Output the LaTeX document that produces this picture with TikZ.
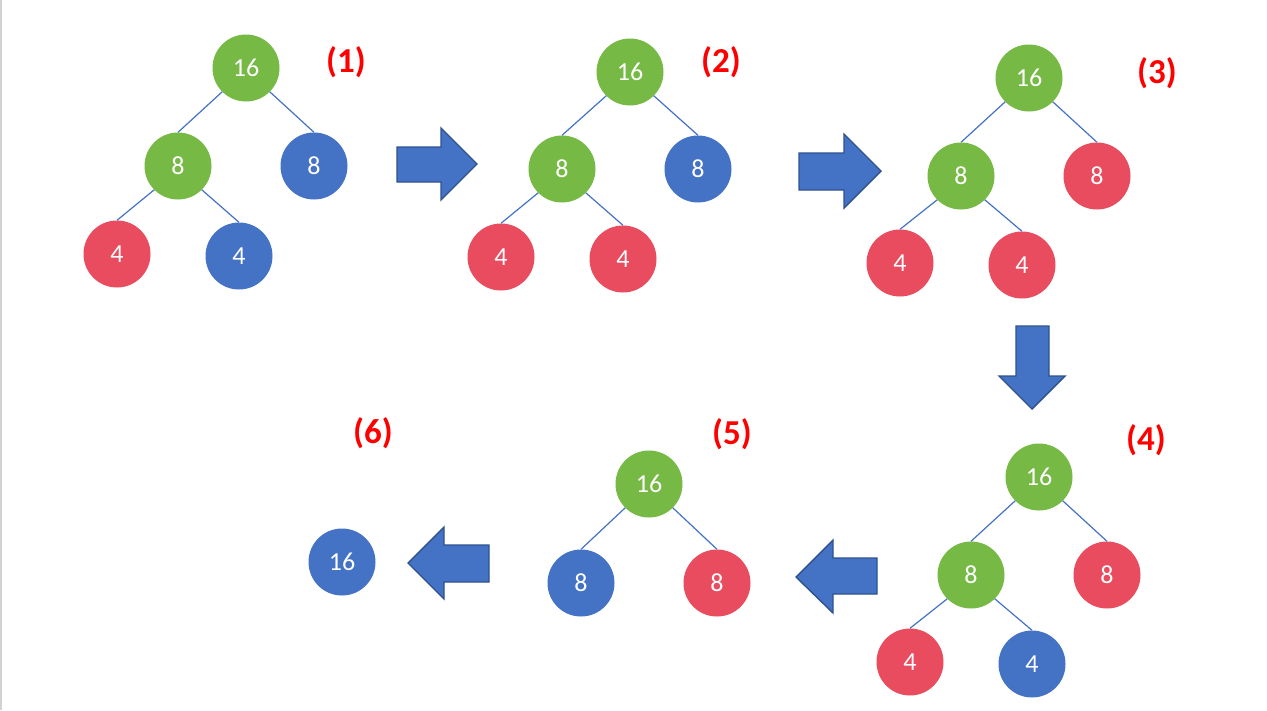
\documentclass[tikz,border=0pt]{standalone}
\usepackage{fontspec}
\setmainfont{Carlito}
\usepackage{tikz}
\usetikzlibrary{positioning}
\definecolor{hgreen}{HTML}{76B945}
\definecolor{hred}{HTML}{E84C5E}
\definecolor{hblue}{HTML}{4472C4}
\definecolor{hborder}{HTML}{2F528F}
\tikzset{
  hnode/.style={circle, minimum size=67pt, inner sep=0pt, text=white,
    font=\fontsize{26}{30}\selectfont},
  grn/.style={hnode, fill=hgreen},
  rd/.style={hnode, fill=hred},
  bl/.style={hnode, fill=hblue},
  link/.style={draw=hblue, line width=1.2pt},
  numlbl/.style={text=red, font=\fontsize{35}{40}\selectfont\bfseries},
  blockarrow/.style={fill=hblue, draw=hborder, line width=1.4pt, line join=miter}
}

\begin{document}
\begin{tikzpicture}[x=1pt,y=-1pt]
  \fill[white] (0,0) rectangle (1267,710);
  \useasboundingbox (0,0) rectangle (1267,710);
  \draw[gray!35, line width=1.5pt] (1,0) -- (1,710);

  % (1)
  \node[grn] (t1r) at (246,68) {16};
  \node[grn] (t1a) at (178,166) {8};
  \node[bl]  (t1b) at (314,166) {8};
  \node[rd]  (t1c) at (117,254) {4};
  \node[bl]  (t1d) at (239,256) {4};
  \node[numlbl] (l1) at (346,62) {(1)};

  % (2)
  \node[grn] (t2r) at (630,72) {16};
  \node[grn] (t2a) at (562,169) {8};
  \node[bl]  (t2b) at (698,169) {8};
  \node[rd]  (t2c) at (501,257) {4};
  \node[rd]  (t2d) at (623,259) {4};
  \node[numlbl] (l2) at (721,62) {(2)};

  % (3)
  \node[grn] (t3r) at (1029,78) {16};
  \node[grn] (t3a) at (961,176) {8};
  \node[rd]  (t3b) at (1097,176) {8};
  \node[rd]  (t3c) at (900,263) {4};
  \node[rd]  (t3d) at (1022,265) {4};
  \node[numlbl] (l3) at (1157,73) {(3)};

  % (4)
  \node[grn] (t4r) at (1039,477) {16};
  \node[grn] (t4a) at (971,575) {8};
  \node[rd]  (t4b) at (1107,575) {8};
  \node[rd]  (t4c) at (910,662) {4};
  \node[bl]  (t4d) at (1032,664) {4};
  \node[numlbl] (l4) at (1146,440) {(4)};

  % (5)
  \node[grn] (t5r) at (649,484) {16};
  \node[bl]  (t5a) at (581,583) {8};
  \node[rd]  (t5b) at (717,583) {8};
  \node[numlbl] (l5) at (732,434) {(5)};

  % (6)
  \node[bl]  (t6r) at (342,562) {16};
  \node[numlbl] (l6) at (373,433) {(6)};

  \foreach \t in {1,2,3,4}{
    \draw[link] (t\t r.south west) -- (t\t a.north);
    \draw[link] (t\t r.south east) -- (t\t b.north);
    \draw[link] (t\t a.south west) -- (t\t c.north);
    \draw[link] (t\t a.south east) -- (t\t d.north);
  };
  \draw[link] (t5r.south west) -- (t5a.north);
  \draw[link] (t5r.south east) -- (t5b.north);

  % block arrows
  \draw[blockarrow] (397,147) -- (441,147) -- (441,128) -- (477,164)
    -- (441,200) -- (441,182) -- (397,182) -- cycle;
  \draw[blockarrow] (799,153) -- (844,153) -- (844,134) -- (881,171)
    -- (844,208) -- (844,190) -- (799,190) -- cycle;
  \draw[blockarrow] (1016,326) -- (1049,326) -- (1049,376) -- (1065,376)
    -- (1032,409) -- (999,376) -- (1016,376) -- cycle;
  \draw[blockarrow] (877,558) -- (833,558) -- (833,540) -- (796,577)
    -- (833,613) -- (833,594) -- (877,594) -- cycle;
  \draw[blockarrow] (489,545) -- (444,545) -- (444,527) -- (408,563)
    -- (444,599) -- (444,582) -- (489,582) -- cycle;
\end{tikzpicture}
\end{document}
